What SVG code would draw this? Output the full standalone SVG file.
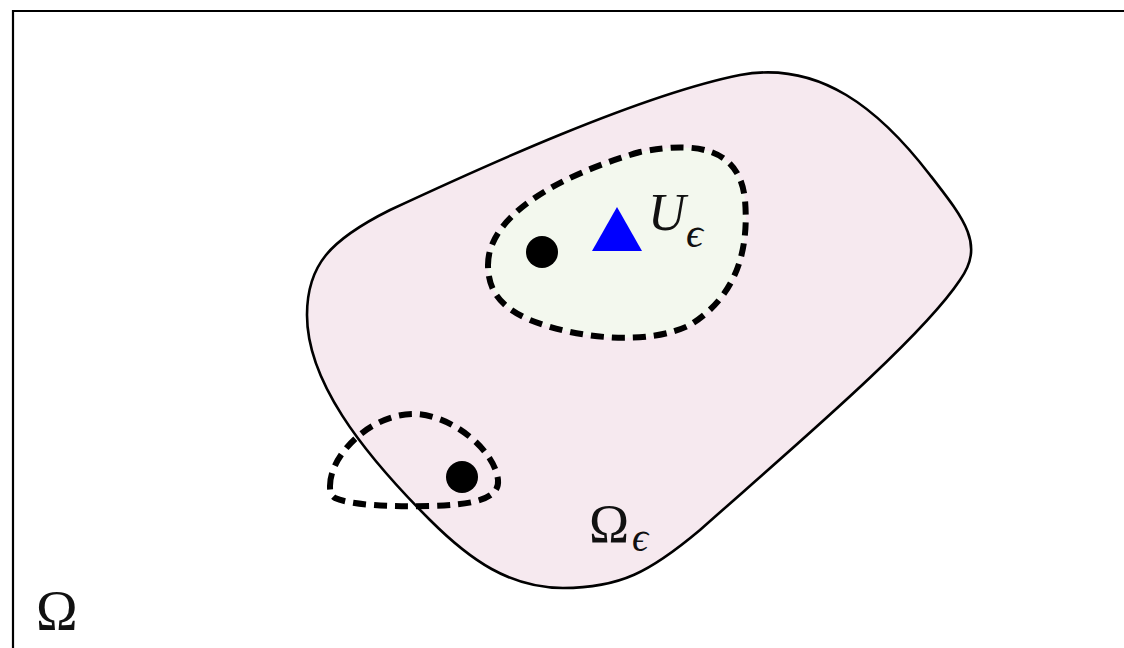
<svg xmlns="http://www.w3.org/2000/svg" width="1124" height="648" viewBox="0 0 1124 648">
<style>
.frame{fill:none;stroke:#000;stroke-width:2.2}
.blob{fill:#f6e9ef;stroke:#000;stroke-width:2.6}
.dash{stroke:#000;stroke-width:6;stroke-dasharray:13 8}
.dot{fill:#000}
.lbl{font-family:"Liberation Serif","DejaVu Serif",serif;fill:#111}
</style>
<rect width="1124" height="648" fill="#fff"/>
<g id="frame"><path class="frame" d="M13 648 L13 11 L1124 11"/></g>
<g id="omega-eps-region"><path class="blob" d="M307 315 C307 265,330 240,390 210 C480 168,640 95,740 75 C820 60,880 110,930 175 C965 220,985 245,960 280 C920 340,790 450,700 530 C650 572,620 588,563 588 C510 588,470 560,430 520 C360 450,307 380,307 315 Z"/></g>
<g id="u-eps-region"><path class="dash" fill="#f3f8ee" d="M488 265 C488 215,560 175,640 152 C700 140,740 150,745 200 C750 260,730 300,690 325 C650 345,580 340,530 320 C500 307,488 290,488 265 Z"/></g>
<g id="small-region"><path class="dash" fill="none" d="M330 486 C330 455,370 415,412 414 C450 413,495 450,498 480 C500 500,470 505,430 506 C390 507,350 505,335 498 C330 495,330 490,330 486 Z"/></g>
<g id="dot1"><circle class="dot" cx="542" cy="252" r="16"/></g>
<g id="dot2"><circle class="dot" cx="462" cy="477" r="16"/></g>
<g id="triangle"><polygon points="592,251 642,251 617,207" fill="#0000ff"/></g>
<g id="labels">
<text class="lbl" x="648" y="230" font-size="52" font-style="italic">U</text>
<text class="lbl" x="686" y="247" font-size="42" font-style="italic">ϵ</text>
<text class="lbl" x="589" y="542" font-size="54">Ω</text>
<text class="lbl" x="632" y="551" font-size="40" font-style="italic">ϵ</text>
<text class="lbl" x="36" y="630" font-size="56">Ω</text>
</g>
</svg>
